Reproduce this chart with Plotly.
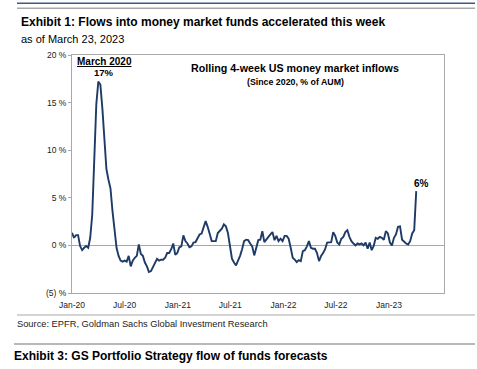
import pandas as pd
import plotly.graph_objects as go

# Rolling 4-week US money market inflows, % of AUM (weekly)
flows_2020 = [1.33, 0.8, 1.08, 1.08, -0.07, -0.5, -0.25, -0.07, -0.25, 0.8, 3.25, 8.5, 14.8, 17.2,
              16.9, 14.4, 10.9, 8.0, 6.9, 6.0, 3.6, 1.5, -0.25, -1.1, -1.6, -1.7, -1.6, -1.7, -1.1,
              -2.2, -1.6, -1.3, -1.1, 0.1, -0.9, -1.1, -1.8, -2.2, -2.8, -2.7, -2.3, -1.8, -1.4, -1.6]
flows_2021 = [-1.5, -1.5, -1.3, -0.8, -0.8, -0.4, 0.2, -1.0, -0.8, -0.2, -0.1, 1.05, 0.45, 0.2, -0.2,
              -0.1, 0.3, 0.35, 0.8, 1.15, 1.25, 1.85, 2.55, 1.95, 1.15, 0.45, 0.45, 0.45, 1.3, 1.5,
              1.75, 2.2, 2.0, 1.3, -0.1, -1.4, -1.8, -2.1, -1.6, -1.1, -0.4, 0.45, 0.6, 0.55, 0.2]
flows_2022 = [-0.1, -1.05, -0.1, 0.55, 0.6, 1.5, 0.35, 0.7, 0.9, 1.15, 1.4, 0.55, 1.0, 0.45, 0.7,
              0.45, 1.0, 1.0, 0.7, -0.25, -1.3, -1.5, -1.75, -1.55, -1.65, -0.6, -0.5, -0.1, 0.45,
              -0.25, -0.35, -0.35, -0.8, -1.65, -1.1, -0.8, -0.4, 0.3, 0.35, 0.35, 1.4, 1.0, 0.3,
              0.1, 0.7, 0.9, 1.4]
flows_2023 = [1.6, 0.9, 0.45, 0.2, 0.0, 0.2, 0.1, 0.2, 0.0, 0.3, -0.35, 0.3, -0.5, -0.05, 0.8, 0.7,
              0.9, 0.8, 0.6, 1.5, 1.25, 0.3, 0.0, 0.8, 1.15, 1.95, 2.0, 0.6, 0.35, 0.2, 0.1, 0.45,
              1.25, 1.6, 5.7]

values = flows_2020 + flows_2021 + flows_2022 + flows_2023
dates = pd.date_range(start="2020-01-01", periods=len(values), freq="7D")

x_tickvals = ["2020-01-01", "2020-07-01", "2021-01-01", "2021-07-01",
              "2022-01-01", "2022-07-01", "2023-01-01"]
x_ticktext = ["Jan-20", "Jul-20", "Jan-21", "Jul-21", "Jan-22", "Jul-22", "Jan-23"]
y_tickvals = [-5, 0, 5, 10, 15, 20]
y_ticktext = ["(5) %", "0 %", "5 %", "10 %", "15 %", "20 %"]

FONT = "Liberation Sans, Arial, sans-serif"
NAVY = "#1d3b66"
AXIS = "#a8a8a8"

fig = go.Figure()
fig.add_trace(go.Scatter(x=dates, y=values, mode="lines",
                         line=dict(color=NAVY, width=1.9), hoverinfo="skip",
                         showlegend=False))

fig.update_layout(
    width=477, height=369, autosize=False,
    margin=dict(l=72, r=33, t=55, b=76, pad=0),
    paper_bgcolor="white", plot_bgcolor="white",
    font=dict(family=FONT, color="#222", size=9),
    xaxis=dict(range=["2020-01-01", "2023-07-10"], tickvals=x_tickvals, ticktext=x_ticktext,
               showgrid=False, zeroline=False,
               showline=True, linecolor=AXIS, linewidth=1, mirror=True,
               ticks="outside", ticklen=4, tickcolor="rgba(0,0,0,0)",
               tickfont=dict(size=8.5, color="#222", family=FONT)),
    yaxis=dict(range=[-5, 20], tickvals=y_tickvals, ticktext=y_ticktext,
               showgrid=False, zeroline=True, zerolinecolor=AXIS, zerolinewidth=1,
               showline=True, linecolor=AXIS, linewidth=1, mirror=True,
               ticks="outside", ticklen=3, tickcolor=AXIS,
               tickfont=dict(size=8.5, color="#222", family=FONT)),
)

def px(xp):
    return (xp - 72) / 372.0

def py(yp):
    return (293 - yp) / 238.0

shapes = [
    dict(type="line", xref="paper", yref="paper", x0=px(17), x1=px(475), y0=py(3.3), y1=py(3.3),
         line=dict(color="#3c5b8c", width=1.5)),
    dict(type="line", xref="paper", yref="paper", x0=px(17), x1=px(475), y0=py(8.3), y1=py(8.3),
         line=dict(color="#a9a9a9", width=1.5)),
    dict(type="line", xref="paper", yref="paper", x0=px(17), x1=px(475), y0=py(315), y1=py(315),
         line=dict(color="#a9a9a9", width=1.2)),
    dict(type="line", xref="paper", yref="paper", x0=px(14), x1=px(475), y0=py(344), y1=py(344),
         line=dict(color="#a0a0a0", width=1.5)),
]
fig.update_layout(shapes=shapes)

def ann(text, x, y, size, bold=False, xanchor="left", color="#000"):
    t = f"<b>{text}</b>" if bold else text
    fig.add_annotation(text=t, xref="paper", yref="paper", x=px(x), y=py(y),
                       xanchor=xanchor, yanchor="middle", showarrow=False,
                       font=dict(family=FONT, size=size, color=color), borderpad=0)

ann("Exhibit 1: Flows into money market funds accelerated this week", 20, 22, 12, bold=True)
ann("as of March 23, 2023", 20, 39, 11)
ann("Source: EPFR, Goldman Sachs Global Investment Research", 16, 324, 9.3, color="#222")
ann("Exhibit 3: GS Portfolio Strategy flow of funds forecasts", 13, 356, 12, bold=True)

ann("Rolling 4-week US money market inflows", 295, 68, 10.7, bold=True, xanchor="center")
ann("(Since 2020, % of AUM)", 295, 82, 8.8, bold=True, xanchor="center")
ann("<u>March 2020</u>", 104, 61, 10, bold=True, xanchor="center")
ann("17%", 104, 73, 9.5, bold=True, xanchor="center")
ann("6%", 421, 183, 10, bold=True, xanchor="center")

fig.write_html("out.html", config={"displayModeBar": False},
               post_script="document.body.style.margin='0';document.body.style.overflow='hidden';")
